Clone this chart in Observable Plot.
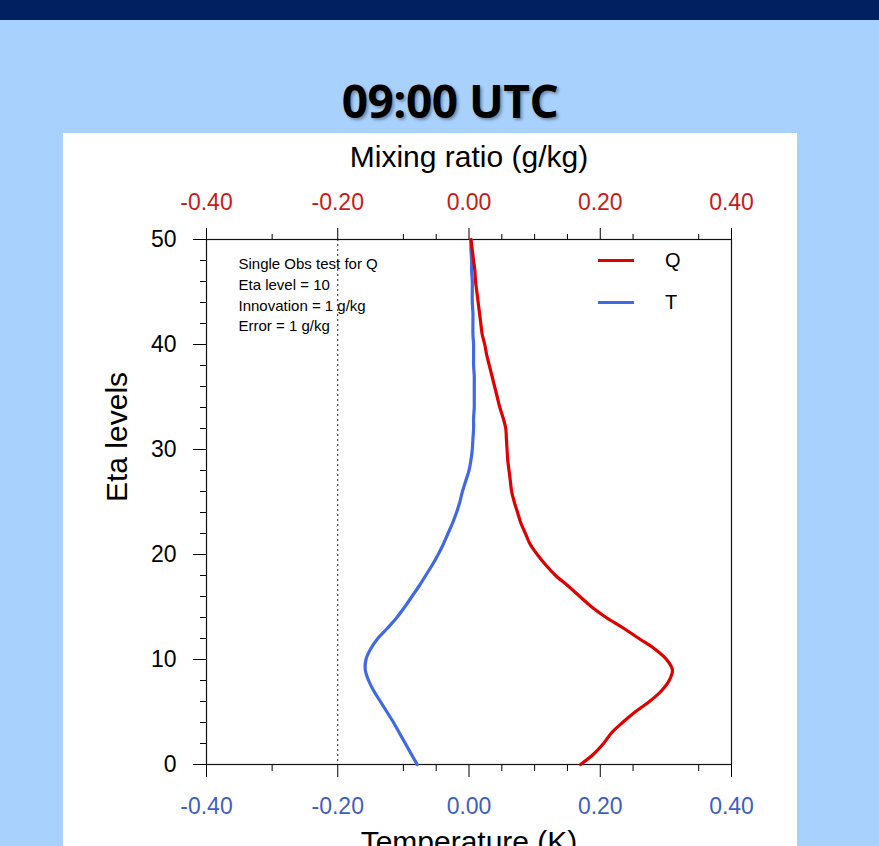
<!DOCTYPE html>
<html>
<head>
<meta charset="utf-8">
<script src="https://cdn.jsdelivr.net/npm/d3@7"></script>
<script src="https://cdn.jsdelivr.net/npm/@observablehq/plot@0.6"></script>
<style>
  html, body { margin: 0; padding: 0; }
  body { width: 879px; height: 846px; overflow: hidden; background: #a9d1fd; position: relative; font-family: "Liberation Sans", Arial, Helvetica, sans-serif; }
  #band { position: absolute; left: 0; top: 0; width: 879px; height: 20px; background: #002060; }
  #title { position: absolute; left: 150px; top: 77px; width: 600px; text-align: center; font-family: "Open Sans", sans-serif; font-weight: 700; font-size: 46px; line-height: 46px; color: #000; text-shadow: 2px 2px 3px rgba(0,0,0,0.35); letter-spacing: -0.5px; }
  #panel { position: absolute; left: 63px; top: 133px; width: 734px; height: 713px; background: #fff; }
  #panel svg { display: block; font-family: "Liberation Sans", Arial, Helvetica, sans-serif; }
  .leg-line { position: absolute; width: 36px; height: 3px; }
  .leg-text { position: absolute; font-family: "Liberation Sans", Arial, Helvetica, sans-serif; font-size: 20px; line-height: 20px; color: #000; }
</style>
</head>
<body>
<div id="band"></div>
<div id="title">09:00 UTC</div>
<div id="panel"></div>
<div class="leg-line" style="left:598px; top:259px; background:#e00000;"></div>
<div class="leg-text" style="left:665px; top:250px;">Q</div>
<div class="leg-line" style="left:598px; top:301px; background:#4169e1;"></div>
<div class="leg-text" style="left:665px; top:292px;">T</div>
<script>
// ---- data ----
const etaLevels = [0,1,2,3,4,5,6,7,8,9,10,11,12,13,14,15,16,17,18,19,20,21,22,23,24,25,26,27,28,29,30,31,32,33,34,35,36,37,38,39,40,41,42,43,44,45,46,47,48,49,50];
// Q increment, mixing ratio (g/kg) – top axis
const qValues = [0.170,0.190,0.205,0.217,0.234,0.253,0.275,0.293,0.305,0.310,
                 0.301,0.283,0.259,0.235,0.209,0.187,0.169,0.151,0.132,0.117,
                 0.104,0.093,0.086,0.079,0.074,0.069,0.065,0.063,0.061,0.059,
                 0.058,0.057,0.056,0.052,0.047,0.043,0.039,0.035,0.031,0.027,
                 0.024,0.020,0.018,0.016,0.014,0.012,0.010,0.009,0.007,0.005,0.003];
// T increment, temperature (K) – bottom axis
const tValues = [-0.079,-0.088,-0.097,-0.106,-0.115,-0.125,-0.135,-0.145,-0.153,-0.158,
                 -0.157,-0.150,-0.139,-0.124,-0.110,-0.098,-0.087,-0.076,-0.066,-0.056,
                 -0.047,-0.039,-0.032,-0.025,-0.019,-0.014,-0.010,-0.005,0.000,0.003,
                 0.005,0.006,0.007,0.007,0.008,0.008,0.008,0.008,0.007,0.007,
                 0.007,0.006,0.006,0.006,0.005,0.005,0.005,0.004,0.004,0.003,0.003];
const xMajorTicks = [-0.4, -0.2, 0, 0.2, 0.4];
const xMinorTicks = [-0.3, -0.1, -0.05, 0.05, 0.1, 0.15, 0.25, 0.35];
const yMajorTicks = [0, 10, 20, 30, 40, 50];
const yMinorTicks = [2,4,6,8,12,14,16,18,22,24,26,28,32,34,36,38,42,44,46,48];
const referenceLine = [-0.2];
const xDomain = [-0.4, 0.4];
const yDomain = [0, 50];
const topTitle = "Mixing ratio (g/kg)";
const bottomTitle = "Temperature (K)";
const yTitle = "Eta levels";
const annotation = "Single Obs test for Q\nEta level = 10\nInnovation = 1 g/kg\nError = 1 g/kg";

const RED = "#e00000", RED_TXT = "#c91a1a", BLUE = "#4169e1", BLUE_TXT = "#3f5fc0";

const qData = etaLevels.map((e, i) => ({eta: e, v: qValues[i]}));
const tData = etaLevels.map((e, i) => ({eta: e, v: tValues[i]}));
const fmt = d => d.toFixed(2);

const chart = Plot.plot({
  width: 734,
  height: 713,
  marginLeft: 143,
  marginRight: 66,
  marginTop: 106,
  marginBottom: 82,
  x: {domain: xDomain},
  y: {domain: yDomain},
  style: {background: "white", fontFamily: "Liberation Sans, Arial, Helvetica, sans-serif"},
  marks: [
    Plot.ruleX(referenceLine, {stroke: "#222", strokeWidth: 1, strokeDasharray: "2,3"}),
    // top axis (mixing ratio)
    Plot.axisX({anchor: "top", ticks: xMajorTicks, tickSize: 12, tickPadding: 18, tickFormat: fmt, stroke: "#000", fill: RED_TXT, fontSize: 23, label: null}),
    Plot.axisX({anchor: "top", ticks: xMinorTicks, tickSize: 6, tickFormat: () => "", stroke: "#000", label: null}),
    // bottom axis (temperature)
    Plot.axisX({anchor: "bottom", ticks: xMajorTicks, tickSize: 13, tickPadding: 20, tickFormat: fmt, stroke: "#000", fill: BLUE_TXT, fontSize: 23, label: null}),
    Plot.axisX({anchor: "bottom", ticks: xMinorTicks, tickSize: 7, tickFormat: () => "", stroke: "#000", label: null}),
    // left axis
    Plot.axisY({anchor: "left", ticks: yMajorTicks, tickSize: 13, tickPadding: 17, tickFormat: d => String(d), stroke: "#000", fill: "#000", fontSize: 23, label: null}),
    Plot.axisY({anchor: "left", ticks: yMinorTicks, tickSize: 6, tickFormat: () => "", stroke: "#000", label: null}),
    Plot.frame({stroke: "#111", strokeWidth: 1.2}),
    // profiles
    Plot.line(tData, {x: "v", y: "eta", stroke: BLUE, strokeWidth: 3.2, curve: "catmull-rom"}),
    Plot.line(qData, {x: "v", y: "eta", stroke: RED, strokeWidth: 3.2, curve: "catmull-rom"}),
    // annotation
    Plot.text([annotation], {text: d => d, frameAnchor: "top-left", dx: 32, dy: 15, lineAnchor: "top", textAnchor: "start", lineHeight: 1.38, fontSize: 15, fill: "#000"}),
    // axis titles
    Plot.text([topTitle], {text: d => d, frameAnchor: "top", dy: -82, lineAnchor: "middle", fontSize: 30, fill: "#000"}),
    Plot.text([bottomTitle], {text: d => d, frameAnchor: "bottom", dy: 78, lineAnchor: "middle", fontSize: 30, fill: "#000"}),
    Plot.text([yTitle], {text: d => d, frameAnchor: "left", dx: -89, rotate: -90, lineAnchor: "middle", fontSize: 30, fill: "#000"})
  ]
});
document.getElementById("panel").appendChild(chart);
</script>
</body>
</html>
